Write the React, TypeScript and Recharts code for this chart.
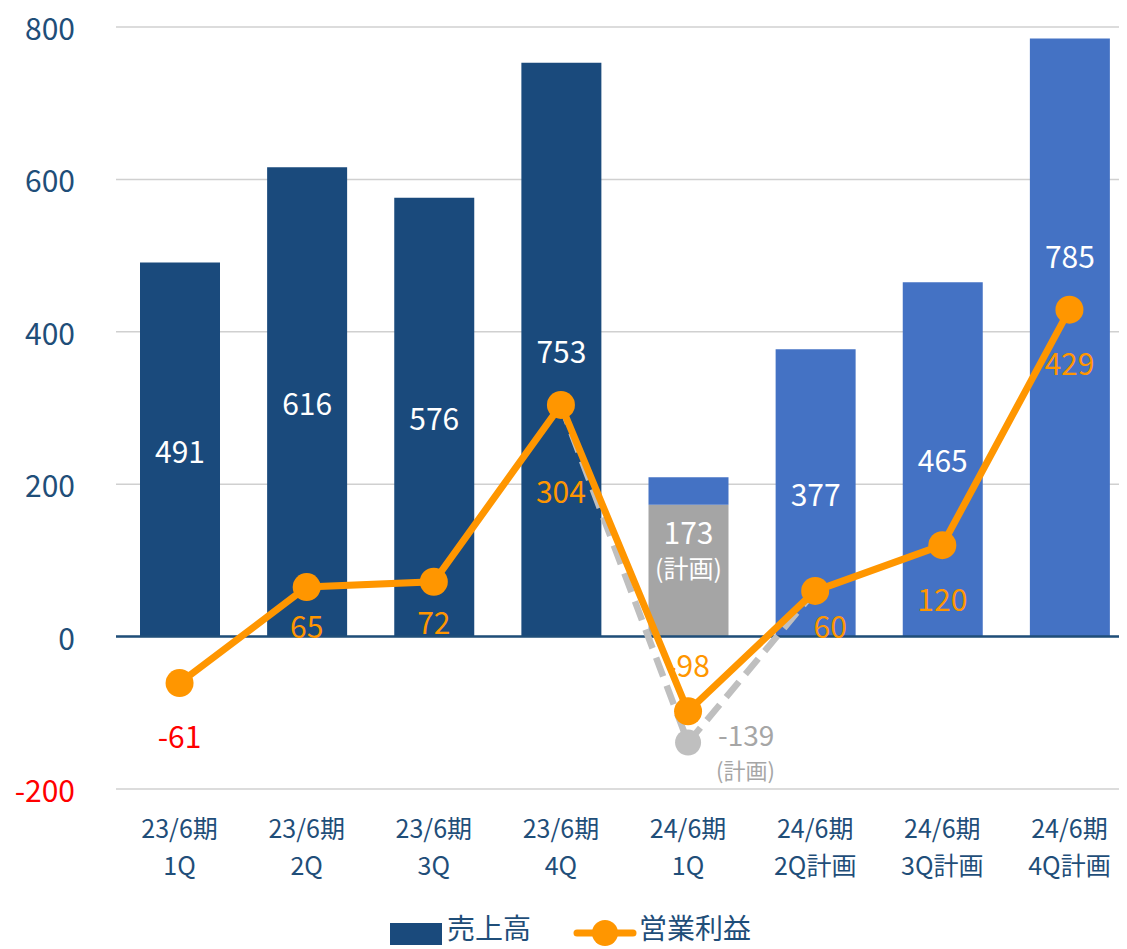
import React from 'react';
import {
  ComposedChart,
  Bar,
  Line,
  XAxis,
  YAxis,
  CartesianGrid,
  ReferenceLine,
  LabelList,
  Cell,
} from 'recharts';

// ---------- data ----------
const periodLabels = ['23/6期', '23/6期', '23/6期', '23/6期', '24/6期', '24/6期', '24/6期', '24/6期'];
const quarterLabels = ['1Q', '2Q', '3Q', '4Q', '1Q', '2Q計画', '3Q計画', '4Q計画'];
const sales = [491, 616, 576, 753, 209, 377, 465, 785];
const salesPlan1Q = 173; // 24/6期 1Q plan (grey part)
const profit = [-61, 65, 72, 304, -98, 60, 120, 429];
const profitPlan = [null, null, null, 304, -139, 60, null, null];
const yTicks = [-200, 0, 200, 400, 600, 800];

// ---------- styles ----------
const NAVY = '#1A4A7C';
const BLUE = '#4472C4';
const GREY = '#A5A5A5';
const ORANGE = '#FF9600';
const PLAN_GREY = '#BFBFBF';
const TEXT = '#1F4E79';
const FONT = '"Noto Sans CJK JP", "Noto Sans", sans-serif';
const PLAN_INDEX = 4;

const data = periodLabels.map((p, i) => ({
  name: `${p} ${quarterLabels[i]}`,
  period: p,
  quarter: quarterLabels[i],
  base: i === PLAN_INDEX ? salesPlan1Q : sales[i],
  top: i === PLAN_INDEX ? sales[i] - salesPlan1Q : 0,
  sales: sales[i],
  profit: profit[i],
  plan: profitPlan[i],
}));

const barColor = (i: number) => (i < PLAN_INDEX ? NAVY : i === PLAN_INDEX ? GREY : BLUE);

// label placement tweaks (pixels)
const profitLabelDy = [52, 38, 39, 85, -47, 34, 53, 52];
const profitLabelDx = [0, 0, 0, 0, 0, 15, 0, 0];

const YTick = (props: any) => {
  const { x, y, payload } = props;
  const v = payload.value;
  return (
    <text
      x={x}
      y={y}
      textAnchor="end"
      dominantBaseline="central"
      fill={v < 0 ? '#FF0000' : TEXT}
      fontSize={30}
      fontFamily={FONT}
    >
      {v}
    </text>
  );
};

const XTick = (props: any) => {
  const { x, y, index } = props;
  return (
    <g>
      <text x={x} y={y + 30} textAnchor="middle" dominantBaseline="central" fill={TEXT} fontSize={25} fontFamily={FONT}>
        {periodLabels[index]}
      </text>
      <text x={x} y={y + 67} textAnchor="middle" dominantBaseline="central" fill={TEXT} fontSize={25} fontFamily={FONT}>
        {quarterLabels[index]}
      </text>
    </g>
  );
};

const BarLabel = (props: any) => {
  const { x, y, width, height, index } = props;
  const cx = x + width / 2;
  if (index === PLAN_INDEX) {
    const topY = y; // top of grey segment
    return (
      <g fontFamily={FONT}>
        <text x={cx} y={topY + 26} textAnchor="middle" dominantBaseline="central" fill="#fff" fontSize={30}>
          {salesPlan1Q}
        </text>
        <text x={cx} y={topY + 62} textAnchor="middle" dominantBaseline="central" fill="#fff" fontSize={25}>
          (計画)
        </text>
      </g>
    );
  }
  let cy = y + height / 2;
  if (index === 7) cy = y + 217;
  return (
    <text x={cx} y={cy} textAnchor="middle" dominantBaseline="central" fill="#fff" fontSize={30} fontFamily={FONT}>
      {sales[index]}
    </text>
  );
};

const TopLabel = (props: any) => {
  const { x, y, width, index } = props;
  if (index !== PLAN_INDEX) return null;
  return (
    <text x={x + width / 2} y={y - 36} textAnchor="middle" dominantBaseline="central" fill={BLUE} fontSize={30} fontFamily={FONT}>
      {sales[index]}
    </text>
  );
};

const ProfitLabel = (props: any) => {
  const { x, y, index, value } = props;
  return (
    <text
      x={x + profitLabelDx[index]}
      y={y + profitLabelDy[index]}
      textAnchor="middle"
      dominantBaseline="central"
      fill={index === 0 ? '#FF0000' : ORANGE}
      fontSize={30}
      fontFamily={FONT}
    >
      {value}
    </text>
  );
};

const PlanLabel = (props: any) => {
  const { x, y, index, value } = props;
  if (index !== PLAN_INDEX) return null;
  return (
    <g fontFamily={FONT} fill="#A6A6A6">
      <text x={x + 30} y={y - 9} textAnchor="start" dominantBaseline="central" fontSize={28}>
        {value}
      </text>
      <text x={x + 28} y={y + 26} textAnchor="start" dominantBaseline="central" fontSize={22}>
        (計画)
      </text>
    </g>
  );
};

const PlanDot = (props: any) => {
  const { cx, cy, index } = props;
  if (index !== PLAN_INDEX || cx == null || cy == null) return <g key={`pd-${index}`} />;
  return <circle key={`pd-${index}`} cx={cx} cy={cy} r={13} fill={PLAN_GREY} />;
};

const Legend = () => (
  <svg width={1127} height={49} style={{ position: 'absolute', left: 0, top: 900 }}>
    <rect x={390} y={23} width={52} height={22} fill={NAVY} />
    <text x={447} y={27} dominantBaseline="central" fill={TEXT} fontSize={28} fontFamily={FONT}>
      売上高
    </text>
    <line x1={577} y1={33} x2={633} y2={33} stroke={ORANGE} strokeWidth={7} strokeLinecap="round" />
    <circle cx={605} cy={33} r={13} fill={ORANGE} />
    <text x={639} y={27} dominantBaseline="central" fill={TEXT} fontSize={28} fontFamily={FONT}>
      営業利益
    </text>
  </svg>
);

export default function App() {
  return (
    <div style={{ marginLeft: -8, marginTop: -8, width: 1127, height: 949, overflow: 'hidden', position: 'relative', background: '#fff' }}>
      <ComposedChart
        width={1133}
        height={949}
        data={data}
        margin={{ top: 27, right: 0, bottom: 0, left: 0 }}
        barSize={80}
      >
        <CartesianGrid vertical={false} stroke="#D0D0D0" strokeWidth={1.5} />
        <XAxis
          dataKey="name"
          axisLine={false}
          tickLine={false}
          height={160}
          interval={0}
          tick={<XTick />}
        />
        <YAxis
          domain={[-200, 800]}
          ticks={yTicks}
          axisLine={false}
          tickLine={false}
          width={116}
          tickMargin={35}
          tick={<YTick />}
          interval={0}
        />
        <Bar dataKey="base" stackId="s" isAnimationActive={false}>
          {data.map((_, i) => (
            <Cell key={i} fill={barColor(i)} />
          ))}
          <LabelList dataKey="base" content={<BarLabel />} />
        </Bar>
        <Bar dataKey="top" stackId="s" fill={BLUE} isAnimationActive={false}>
          <LabelList dataKey="top" content={<TopLabel />} />
        </Bar>
        <ReferenceLine y={0} stroke={TEXT} strokeWidth={2.5} />
        <Line
          dataKey="plan"
          stroke={PLAN_GREY}
          strokeWidth={6.5}
          strokeDasharray="20 10"
          dot={<PlanDot />}
          activeDot={false}
          connectNulls={false}
          isAnimationActive={false}
        >
          <LabelList dataKey="plan" content={<PlanLabel />} />
        </Line>
        <Line
          dataKey="profit"
          stroke={ORANGE}
          strokeWidth={7}
          dot={{ r: 14, fill: ORANGE, stroke: 'none' }}
          activeDot={false}
          isAnimationActive={false}
        >
          <LabelList dataKey="profit" content={<ProfitLabel />} />
        </Line>
      </ComposedChart>
      <Legend />
    </div>
  );
}
